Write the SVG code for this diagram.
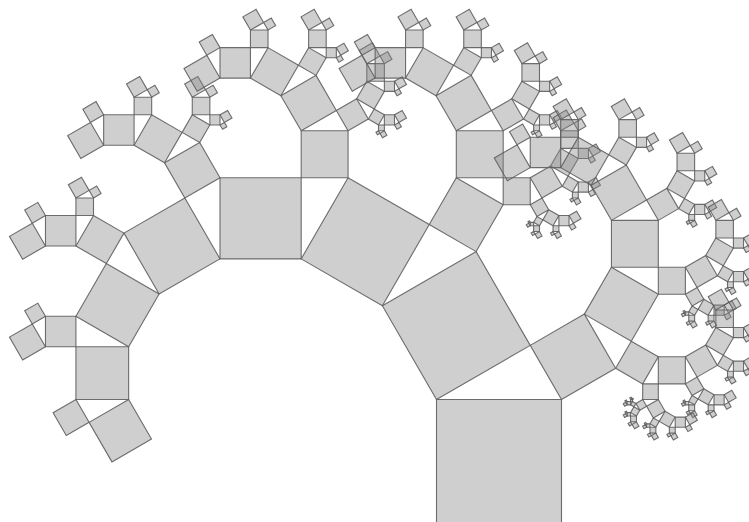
<svg xmlns="http://www.w3.org/2000/svg" xmlns:xlink="http://www.w3.org/1999/xlink" width="749" height="522" viewBox="0 0 749 522">
<style>
.sq{fill:#888888;fill-opacity:0.4;stroke:#5e5e5e;stroke-width:1.1;stroke-opacity:0.9}
</style>
<rect width="749" height="522" fill="#ffffff"/>
<defs>
<rect id="s" class="sq" x="0" y="-1" width="1" height="1" vector-effect="non-scaling-stroke"/>
<g id="g7"><use href="#s"/></g>
<g id="g6"><use href="#s"/><use href="#g7" transform="translate(0,-1) rotate(-30) scale(0.8660254)"/><use href="#g7" transform="translate(0.75,-1.4330127) rotate(60) scale(0.5)"/></g>
<g id="g5"><use href="#s"/><use href="#g6" transform="translate(0,-1) rotate(-30) scale(0.8660254)"/><use href="#g6" transform="translate(0.75,-1.4330127) rotate(60) scale(0.5)"/></g>
<g id="g4"><use href="#s"/><use href="#g5" transform="translate(0,-1) rotate(-30) scale(0.8660254)"/><use href="#g5" transform="translate(0.75,-1.4330127) rotate(60) scale(0.5)"/></g>
<g id="g3"><use href="#s"/><use href="#g4" transform="translate(0,-1) rotate(-30) scale(0.8660254)"/><use href="#g4" transform="translate(0.75,-1.4330127) rotate(60) scale(0.5)"/></g>
<g id="g2"><use href="#s"/><use href="#g3" transform="translate(0,-1) rotate(-30) scale(0.8660254)"/><use href="#g3" transform="translate(0.75,-1.4330127) rotate(60) scale(0.5)"/></g>
<g id="g1"><use href="#s"/><use href="#g2" transform="translate(0,-1) rotate(-30) scale(0.8660254)"/><use href="#g2" transform="translate(0.75,-1.4330127) rotate(60) scale(0.5)"/></g>
<g id="g0"><use href="#s"/><use href="#g1" transform="translate(0,-1) rotate(-30) scale(0.8660254)"/><use href="#g1" transform="translate(0.75,-1.4330127) rotate(60) scale(0.5)"/></g>
</defs>
<g id="tree" transform="translate(436.5,524.5) scale(125)">
<use href="#g0"/>
</g>
</svg>
